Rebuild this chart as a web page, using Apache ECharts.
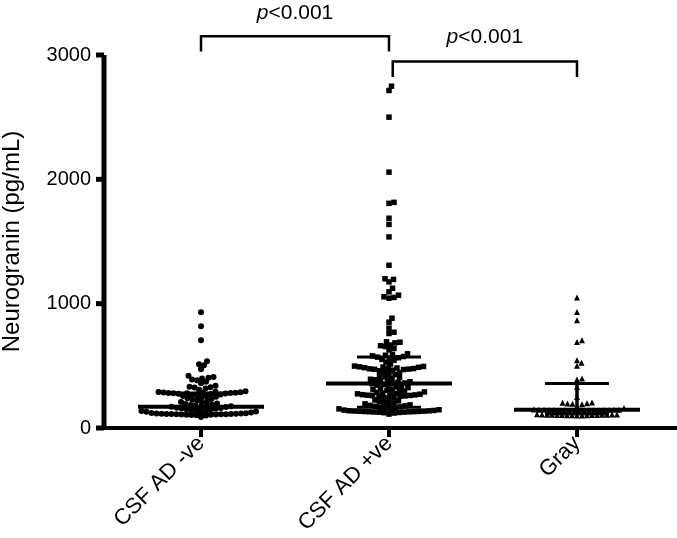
<!DOCTYPE html>
<html>
<head>
<meta charset="utf-8">
<script src="https://cdn.jsdelivr.net/npm/echarts@6/dist/echarts.min.js"></script>
<style>
  html, body { margin: 0; padding: 0; background: #fff; }
  #chart { width: 677px; height: 538px; }
</style>
</head>
<body>
<div id="chart"></div>
<script>
  var groups = ['CSF AD -ve', 'CSF AD +ve', 'Gray'];
  var yTicks = [0, 1000, 2000, 3000];

  // neurogranin values (pg/mL)
  var csfNeg = [930, 818, 706, 537, 513, 505, 473,
    420, 410, 405, 398, 390, 385, 371, 360, 340, 332, 328, 325, 318, 308,
    296, 292, 289, 287, 285, 284, 283, 282, 281, 280, 279, 278, 276, 273, 270, 266, 262, 258, 255, 252,
    246, 240, 234, 228, 222, 216, 210, 204, 198, 193, 188, 184, 180, 177, 174, 171,
    169, 166, 163, 160, 157, 154, 151, 148, 145, 142, 139, 136, 133, 130, 127, 124, 121,
    118, 117, 116, 115, 114, 113, 112, 112, 111, 110, 110, 109, 108, 107, 106, 105, 103, 100, 88];

  var csfPos = [2749, 2715, 2500, 2058, 1815, 1807, 1687, 1638, 1537, 1309, 1200, 1195, 1175, 1124, 1095, 1068, 1055, 1050, 1044, 883, 851, 803, 770, 760,
    693, 690, 685, 667, 662, 655, 640, 628,
    598, 592, 585, 580, 575, 570, 565, 560, 552, 545, 530, 515,
    498, 495, 492, 490, 488, 485, 482, 480, 478, 476, 474, 472, 470, 465, 460, 452, 445, 438, 430, 420, 412, 405,
    398, 392, 388, 382, 378, 372, 368, 362, 358, 355, 350, 345, 340, 335, 330, 325, 318, 312, 308, 302,
    298, 294, 290, 286, 282, 278, 275, 272, 270, 268, 266, 264, 262, 260, 258, 255, 250, 245, 240, 232, 225, 218, 210, 204,
    198, 194, 190, 186, 182, 178, 174, 170, 166, 162, 158, 154, 150, 147, 144,
    141, 139, 138, 137, 136, 135, 134, 133, 132, 131, 130, 129, 128, 127, 125, 123, 120, 112];

  var gray = [1050, 933, 866, 706, 692, 545, 524, 500, 398, 390, 330, 250, 205, 203, 200, 198, 196, 192, 175, 160,
    148, 147, 147, 146, 146, 145, 145, 144, 144, 143, 143, 142, 142, 141, 141, 140, 139, 138,
    110, 109, 108, 108, 107, 107, 106, 106, 105, 105, 104, 104, 103, 103, 102, 101, 100];

  // median with interquartile range
  var medians = [171, 358, 147];
  var q1s = [115, 166, 112];
  var q3s = [281, 572, 358];

  // significance brackets: [from, to, top, leg end]
  var brackets = [[0, 1, 3150, 3028], [1.02, 2, 2948, 2823]];
  var pLabels = [[0.5, 3335], [1.51, 3145]];

  var GRID = { left: 104, right: 0, top: 55, bottom: 110 };
  var X_MIN = -0.516, X_MAX = 2.532, Y_MAX = 3000;
  var FONT = "'Liberation Sans', Arial, sans-serif";

  // simple beeswarm: push each point sideways until it clears the ones already placed
  function swarm(values, idx, size) {
    var kx = (677 - GRID.left - GRID.right) / (X_MAX - X_MIN);
    var ky = (538 - GRID.top - GRID.bottom) / Y_MAX;
    var placed = [], out = [];
    values.slice().sort(function (a, b) { return a - b; }).forEach(function (v) {
      var py = v * ky, px = 0;
      for (var k = 0; k < 600; k++) {
        var cand = k === 0 ? 0 : (k % 2 ? 1 : -1) * Math.ceil(k / 2) * 0.5;
        var hit = placed.some(function (p) {
          var dx = p[0] - cand, dy = p[1] - py;
          return dx * dx + dy * dy < size * size;
        });
        if (!hit) { px = cand; break; }
      }
      placed.push([px, py]);
      out.push([idx + px / kx, v]);
    });
    return out;
  }

  var dotStyle = { color: '#000', opacity: 1 };
  var chart = echarts.init(document.getElementById('chart'));

  chart.setOption({
    backgroundColor: '#fff',
    animation: false,
    grid: {
      left: GRID.left, right: GRID.right, top: GRID.top, bottom: GRID.bottom,
      containLabel: false, outerBoundsMode: 'none'
    },
    xAxis: {
      type: 'value',
      min: X_MIN,
      max: X_MAX,
      splitLine: { show: false },
      axisLine: { show: true, lineStyle: { color: '#000', width: 4 } },
      axisTick: { show: true, customValues: [0, 1, 2], length: 9, lineStyle: { color: '#000', width: 4 } },
      axisLabel: {
        customValues: [0, 1, 2],
        rotate: 45,
        margin: 12,
        color: '#000',
        fontSize: 22,
        fontFamily: FONT,
        formatter: function (v) { return groups[Math.round(v)]; }
      }
    },
    yAxis: {
      type: 'value',
      min: 0,
      max: Y_MAX,
      interval: 1000,
      name: 'Neurogranin (pg/mL)',
      nameLocation: 'middle',
      nameGap: 80,
      nameTextStyle: { color: '#000', fontSize: 24, fontFamily: FONT },
      splitLine: { show: false },
      axisLine: { show: false, onZero: false },
      axisTick: { show: false },
      axisLabel: {
        customValues: yTicks, margin: 13, color: '#000', fontSize: 20, fontFamily: FONT,
        formatter: function (v) { return String(v); }
      }
    },
    series: [
      {
        name: groups[0], type: 'scatter', symbol: 'circle', symbolSize: 6,
        itemStyle: dotStyle, data: swarm(csfNeg, 0, 4.8)
      },
      {
        name: groups[1], type: 'scatter', symbol: 'rect', symbolSize: 5.5,
        itemStyle: dotStyle, data: swarm(csfPos, 1, 4.8)
      },
      {
        name: groups[2], type: 'scatter', symbol: 'triangle', symbolSize: 6,
        itemStyle: dotStyle, data: swarm(gray, 2, 5)
      },
      {
        // y axis line and ticks, drawn bold like the original
        type: 'custom',
        clip: false,
        z: 6,
        encode: { x: 0, y: 1 },
        data: [[X_MIN, 0]],
        renderItem: function (params, api) {
          var base = api.coord([X_MIN, 0]);
          var top = api.coord([X_MIN, Y_MAX]);
          var bold = { stroke: '#000', lineWidth: 5 };
          var kids = [
            { type: 'line', shape: { x1: base[0], y1: base[1] + 2, x2: top[0], y2: top[1] }, style: bold },
            { type: 'line', shape: { x1: base[0] - 6, y1: base[1], x2: base[0], y2: base[1] },
              style: { stroke: '#000', lineWidth: 4 } }
          ];
          yTicks.forEach(function (t) {
            var p = api.coord([X_MIN, t]);
            kids.push({ type: 'line', shape: { x1: p[0] - 8, y1: p[1], x2: p[0], y2: p[1] }, style: bold });
          });
          return { type: 'group', children: kids };
        }
      },
      {
        type: 'custom',
        z: 5,
        encode: { x: 0, y: [1, 2, 3] },
        data: groups.map(function (g, i) { return [i, q1s[i], medians[i], q3s[i]]; }),
        renderItem: function (params, api) {
          var lo = api.coord([api.value(0), api.value(1)]);
          var mid = api.coord([api.value(0), api.value(2)]);
          var hi = api.coord([api.value(0), api.value(3)]);
          var x = mid[0];
          var st = function (w) { return { stroke: '#000', lineWidth: w }; };
          return {
            type: 'group',
            children: [
              { type: 'line', shape: { x1: x, y1: lo[1], x2: x, y2: hi[1] }, style: st(3.5) },
              { type: 'line', shape: { x1: x - 63, y1: mid[1], x2: x + 63, y2: mid[1] }, style: st(4) },
              { type: 'line', shape: { x1: x - 32, y1: hi[1], x2: x + 32, y2: hi[1] }, style: st(3) },
              { type: 'line', shape: { x1: x - 32, y1: lo[1], x2: x + 32, y2: lo[1] }, style: st(3) }
            ]
          };
        }
      },
      {
        type: 'custom',
        clip: false,
        encode: { x: [0, 1], y: [2, 3] },
        data: brackets,
        renderItem: function (params, api) {
          var a = api.coord([api.value(0), api.value(3)]);
          var b = api.coord([api.value(0), api.value(2)]);
          var c = api.coord([api.value(1), api.value(2)]);
          var d = api.coord([api.value(1), api.value(3)]);
          return {
            type: 'polyline',
            shape: { points: [a, b, c, d] },
            style: { stroke: '#000', lineWidth: 2.5, fill: null }
          };
        }
      },
      {
        type: 'custom',
        clip: false,
        encode: { x: 0, y: 1 },
        data: pLabels,
        renderItem: function (params, api) {
          var p = api.coord([api.value(0), api.value(1)]);
          return {
            type: 'text',
            style: {
              text: '{i|p}<0.001',
              x: p[0], y: p[1],
              align: 'center', verticalAlign: 'middle',
              fill: '#000', fontSize: 21, fontFamily: FONT,
              rich: { i: { fontStyle: 'italic', fontSize: 21, fontFamily: FONT, fill: '#000' } }
            }
          };
        }
      }
    ]
  });
</script>
</body>
</html>
